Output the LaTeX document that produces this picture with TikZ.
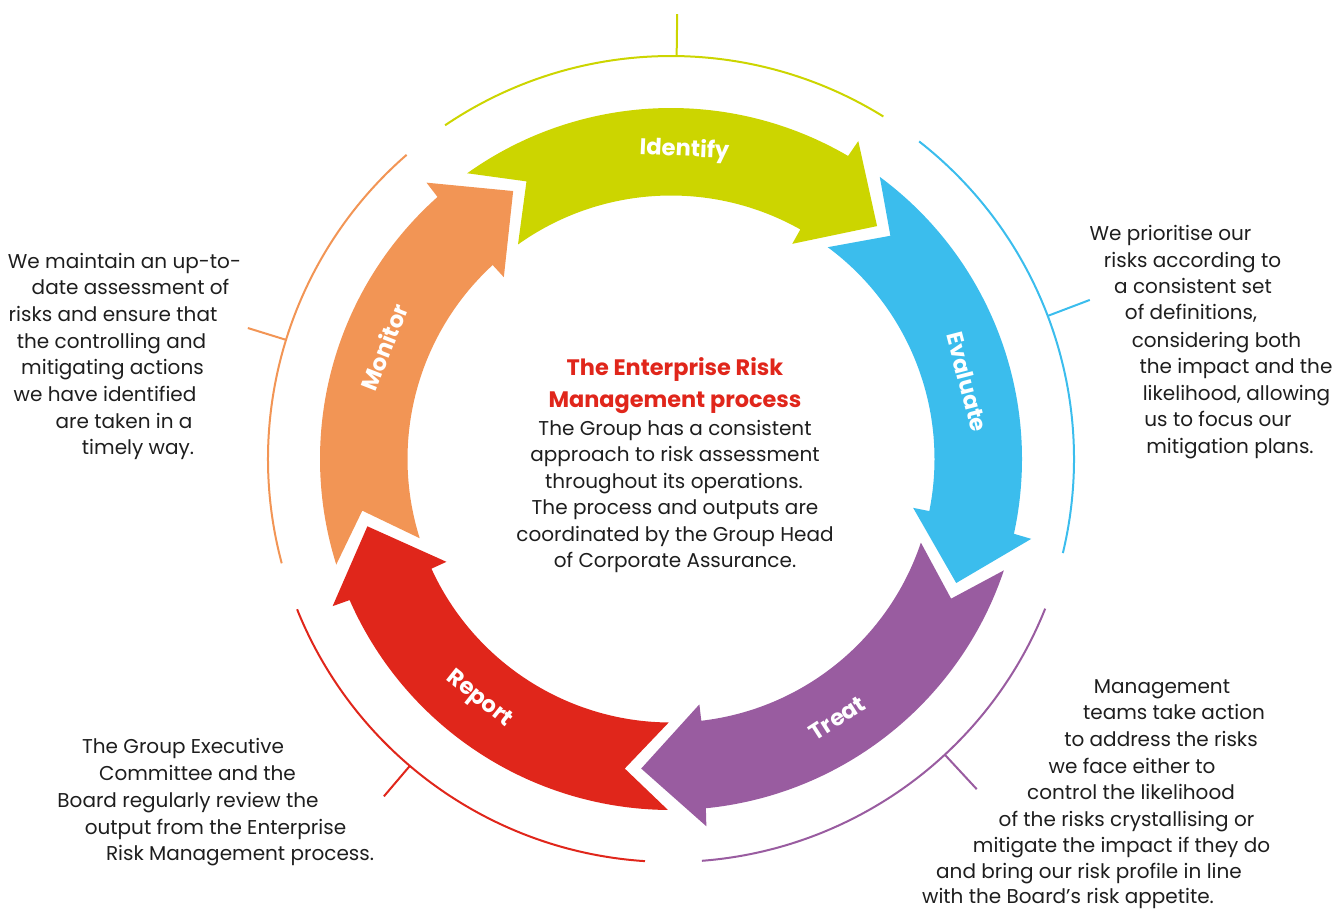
\documentclass[tikz,border=0pt]{standalone}
\usepackage{fontspec}
\setmainfont{Poppins}
\definecolor{idc}{RGB}{204,213,0}
\definecolor{evc}{RGB}{59,189,237}
\definecolor{trc}{RGB}{153,92,160}
\definecolor{rpc}{RGB}{224,38,27}
\definecolor{mnc}{RGB}{242,149,85}
\definecolor{txt}{RGB}{30,30,30}
\newcommand\riskarrow[2]{%
  \fill[#2] (#1:351) -- ({#1-8}:313) -- (#1:263.5)
    arc[start angle=#1, end angle={#1-64.9}, radius=263.5]
    -- ({#1-64.9}:247) -- ({#1-77}:311) -- ({#1-66}:369) -- ({#1-65.8}:351)
    arc[start angle={#1-65.8}, end angle=#1, radius=351] -- cycle;}
\tikzset{
  arcline/.style={line width=1.5pt},
  lbl/.style={text=white, font=\bfseries\fontsize{17}{19}\selectfont, inner sep=0pt},
  body/.style={text=txt, font=\fontsize{15}{17}\selectfont, inner sep=0pt, anchor=mid, yshift=-3pt},
  ttl/.style={text=rpc, font=\bfseries\fontsize{16.8}{19}\selectfont, inner sep=0pt, anchor=mid, yshift=-3pt},
}
\begin{document}
\begin{tikzpicture}[x=0.75pt,y=0.75pt]
\useasboundingbox (0,0) rectangle (1337,-910);
\begin{scope}[shift={(671,-459)}]
  % arrows
  \riskarrow{125.5}{idc}
  \riskarrow{53.5}{evc}
  \riskarrow{-18.5}{trc}
  \riskarrow{-90.5}{rpc}
  \riskarrow{-162.5}{mnc}
  % labels
  \node[lbl, rotate=-2.5] (lid) at (87.5:309) {Identify};
  \node[lbl, rotate=-75.4] (lev) at (14.6:306) {Evaluate};
  \node[lbl, rotate=32.7] (ltr) at (-57.3:308) {Treat};
  \node[lbl, rotate=-38.6] (lrp) at (-128.6:308) {Report};
  \node[lbl, rotate=68.7] (lmn) at (158.7:308) {Monitor};
  % outer arcs and ticks
  \draw[arcline, idc] (124.1:403) arc[start angle=124.1, end angle=58.2, radius=403];
  \coordinate (kid1) at (89.2:403); \coordinate (kid2) at (89.2:445);
  \draw[arcline, idc] (kid1) -- (kid2);
  \draw[arcline, evc] (52:403) arc[start angle=52, end angle=-13.5, radius=403];
  \coordinate (kev1) at (20.8:403); \coordinate (kev2) at (20.8:448);
  \draw[arcline, evc] (kev1) -- (kev2);
  \draw[arcline, trc] (-21.8:403) arc[start angle=-21.8, end angle=-85.6, radius=403];
  \coordinate (ktr1) at (-47.2:403); \coordinate (ktr2) at (-47.2:450);
  \draw[arcline, trc] (ktr1) -- (ktr2);
  \draw[arcline, rpc] (201.9:403) arc[start angle=201.9, end angle=266.3, radius=403];
  \coordinate (krp1) at (229.6:403); \coordinate (krp2) at (229.6:443);
  \draw[arcline, rpc] (krp1) -- (krp2);
  \draw[arcline, mnc] (131:403) arc[start angle=131, end angle=195, radius=403];
  \coordinate (kmn1) at (162.8:403); \coordinate (kmn2) at (162.8:443);
  \draw[arcline, mnc] (kmn1) -- (kmn2);
\end{scope}
% centre text
\node[ttl] (c1) at (675,-368) {The Enterprise Risk};
\node[ttl] (c2) at (675,-400) {Management process};
\node[body] (c3) at (675,-428) {The Group has a consistent};
\node[body] (c4) at (675,-454) {approach to risk assessment};
\node[body] (c5) at (674,-481) {throughout its operations.};
\node[body] (c6) at (675,-507) {The process and outputs are};
\node[body] (c7) at (675,-534) {coordinated by the Group Head};
\node[body] (c8) at (675,-560) {of Corporate Assurance.};
% Monitor text
\node[body] (m1) at (124.5,-261) {We maintain an up-to-};
\node[body] (m2) at (130.5,-287) {date assessment of};
\node[body] (m3) at (113,-314) {risks and ensure that};
\node[body] (m4) at (111.5,-341) {the controlling and};
\node[body] (m5) at (112.5,-367) {mitigating actions};
\node[body] (m6) at (105,-394) {we have identified};
\node[body] (m7) at (124,-421) {are taken in a};
\node[body] (m8) at (138,-447) {timely way.};
% Evaluate text
\node[body] (e1) at (1170.5,-233) {We prioritise our};
\node[body] (e2) at (1192.5,-260) {risks according to};
\node[body] (e3) at (1193,-286) {a consistent set};
\node[body] (e4) at (1191,-312) {of definitions,};
\node[body] (e5) at (1216.5,-340) {considering both};
\node[body] (e6) at (1236,-366) {the impact and the};
\node[body] (e7) at (1236.5,-393) {likelihood, allowing};
\node[body] (e8) at (1218,-419) {us to focus our};
\node[body] (e9) at (1230,-446) {mitigation plans.};
% Treat text
\node[body] (t1) at (1162,-686) {Management};
\node[body] (t2) at (1174,-712) {teams take action};
\node[body] (t3) at (1161,-739) {to address the risks};
\node[body] (t4) at (1132,-766) {we face either to};
\node[body] (t5) at (1131,-792) {control the likelihood};
\node[body] (t6) at (1126.5,-819) {of the risks crystallising or};
\node[body] (t7) at (1121.5,-845) {mitigate the impact if they do};
\node[body] (t8) at (1089,-871) {and bring our risk profile in line};
\node[body] (t9) at (1068,-896) {with the Board’s risk appetite.};
% Report text
\node[body] (r1) at (183,-746) {The Group Executive};
\node[body] (r2) at (197.5,-773) {Committee and the};
\node[body] (r3) at (188,-800) {Board regularly review the};
\node[body] (r4) at (215.5,-827) {output from the Enterprise};
\node[body] (r5) at (240,-853) {Risk Management process.};
\end{tikzpicture}
\end{document}
